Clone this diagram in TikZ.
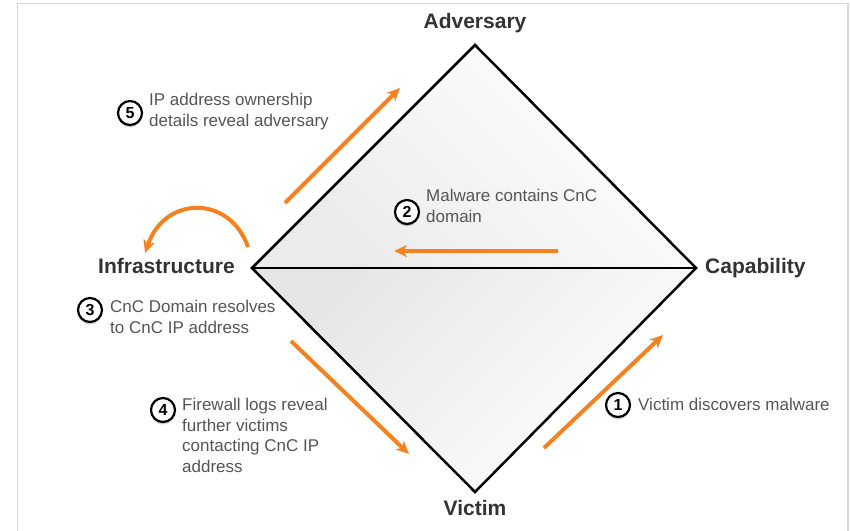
\documentclass[tikz,border=0pt]{standalone}
\usepackage{fontspec}
\setmainfont{Liberation Sans}
\usetikzlibrary{arrows.meta,shadows}
\definecolor{org}{RGB}{245,130,32}
\definecolor{txt}{RGB}{85,85,85}
\definecolor{lbl}{RGB}{51,51,51}
\begin{document}
\begin{tikzpicture}[x=1pt,y=-1pt,
 vlabel/.style={font=\fontsize{21}{24}\selectfont\bfseries,text=lbl,inner sep=0pt},
 note/.style={font=\fontsize{17}{20.5}\selectfont,text=txt,align=left,anchor=north west,inner sep=0pt},
 num/.style={circle,draw=black,line width=2.2pt,fill=white,minimum size=24pt,inner sep=0pt,font=\fontsize{16}{16}\selectfont\bfseries,drop shadow={shadow xshift=0pt,shadow yshift=-2.5pt,opacity=.35}},
 flow/.style={draw=org,line width=4pt,-{Stealth[length=13pt,width=12pt,inset=4pt]}},
 edgeline/.style={draw=black,line width=2.5pt,line join=miter}]
\useasboundingbox (0,0) rectangle (850,530);
\draw[black!15,line width=1.5pt] (17.5,531) -- (17.5,3.5) -- (848,3.5) -- (848,531);

\coordinate (A) at (475,45);
\coordinate (I) at (252,268);
\coordinate (C) at (696,268);
\coordinate (V) at (475,492);

\shade[top color=white,middle color=white,bottom color=black!8,shading angle=-45] (A) -- (C) -- (I) -- cycle;
\shade[top color=black!10,middle color=black!3,bottom color=white,shading angle=45] (I) -- (C) -- (V) -- cycle;
\draw[edgeline] (A) -- (C) -- (V) -- (I) -- cycle;
\draw[edgeline] (I) -- (C);

\node[vlabel,anchor=base] (adv) at (475,28) {Adversary};
\node[vlabel,anchor=base west] (inf) at (98,273) {Infrastructure};
\node[vlabel,anchor=base west] (cap) at (705,273) {Capability};
\node[vlabel,anchor=base] (vic) at (475,515) {Victim};

\coordinate (a5s) at (285,203);
\coordinate (a5e) at (400,88);
\coordinate (a2s) at (558,251);
\coordinate (a2e) at (394,251);
\coordinate (c3s) at (248,247);
\coordinate (c3e) at (145,253);
\coordinate (a4s) at (291,341);
\coordinate (a4e) at (409,454);
\coordinate (a1s) at (544,448);
\coordinate (a1e) at (663,335);

\draw[flow] (a5s) -- (a5e);
\draw[flow] (a2s) -- (a2e);
\draw[flow] (c3s) .. controls (230,195) and (165,195) .. (c3e);
\draw[flow] (a4s) -- (a4e);
\draw[flow] (a1s) -- (a1e);

\node[num] (n5) at (130,113) {5};
\node[note] (t5) at (149,93) {IP address ownership\\details reveal adversary};
\node[num] (n2) at (407,212) {2};
\node[note] (t2) at (426,189) {Malware contains CnC\\domain};
\node[num] (n3) at (90,310) {3};
\node[note] (t3) at (110,300) {CnC Domain resolves\\to CnC IP address};
\node[num] (n4) at (163,410) {4};
\node[note] (t4) at (182,398) {Firewall logs reveal\\further victims\\contacting CnC IP\\address};
\node[num] (n1) at (618,405) {1};
\node[note] (t1) at (638,398) {Victim discovers malware};
\end{tikzpicture}
\end{document}
